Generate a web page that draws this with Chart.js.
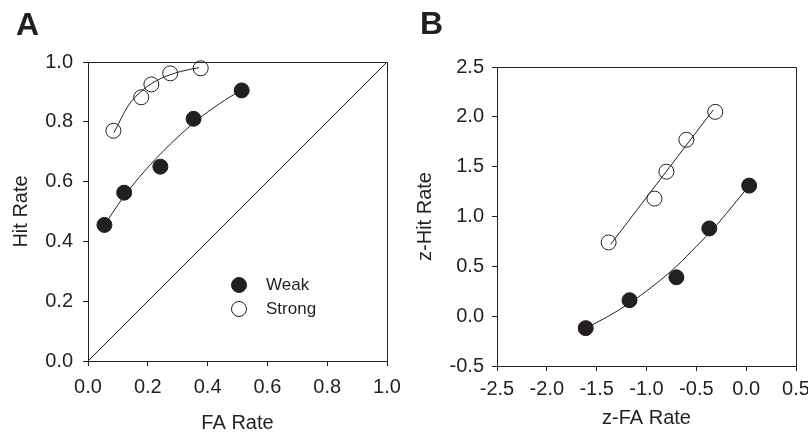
<!DOCTYPE html>
<html>
<head>
<meta charset="utf-8">
<script src="https://cdn.jsdelivr.net/npm/chart.js@4.4.1/dist/chart.umd.min.js"></script>
<style>
  html, body { margin: 0; padding: 0; background: #fff; }
  #wrap { position: relative; width: 808px; height: 439px; overflow: hidden; }
  canvas { position: absolute; top: 0; }
  #chartA { left: 0; }
  #chartB { left: 400px; }
  .panel { position: absolute; font: bold 32px "Liberation Sans", Arial, sans-serif; line-height: 32px; color: #231f20; }
</style>
</head>
<body>
<div id="wrap">
  <canvas id="chartA" width="400" height="439"></canvas>
  <canvas id="chartB" width="408" height="439"></canvas>
  <div class="panel" style="left:16px;top:8px">A</div>
  <div class="panel" style="left:420px;top:7px">B</div>
</div>
<script>
// values
// panel A: hit rate vs false-alarm rate
const weakFA    = [0.055, 0.121, 0.242, 0.353, 0.514];
const weakHit   = [0.455, 0.563, 0.650, 0.810, 0.905];
const strongFA  = [0.085, 0.178, 0.212, 0.275, 0.377];
const strongHit = [0.770, 0.882, 0.925, 0.962, 0.979];
// fitted curves
const weakFitFA    = [0.054, 0.081, 0.121, 0.171, 0.242, 0.309, 0.382, 0.460, 0.512];
const weakFitHit   = [0.452, 0.494, 0.551, 0.614, 0.692, 0.757, 0.819, 0.874, 0.905];
const strongFitFA  = [0.087, 0.136, 0.184, 0.242, 0.309, 0.371];
const strongFitHit = [0.764, 0.856, 0.907, 0.944, 0.968, 0.981];
const chanceX = [0, 1];
const chanceY = [0, 1];

// panel B: z-transformed rates
const weakZFA    = [-1.61, -1.17, -0.70, -0.37, 0.03];
const weakZHit   = [-0.12, 0.16, 0.39, 0.88, 1.31];
const strongZFA  = [-1.38, -0.92, -0.80, -0.60, -0.31];
const strongZHit = [0.74, 1.18, 1.45, 1.77, 2.05];
const weakZFitFA    = [-1.61, -1.40, -1.17, -0.95, -0.70, -0.50, -0.30, -0.10, 0.03];
const weakZFitHit   = [-0.12, -0.01, 0.13, 0.29, 0.50, 0.70, 0.91, 1.15, 1.31];
const strongZFitFA  = [-1.36, -0.33];
const strongZFitHit = [0.72, 2.07];

const ticksA  = [0, 0.2, 0.4, 0.6, 0.8, 1.0];
const xTicksB = [-2.5, -2.0, -1.5, -1.0, -0.5, 0.0, 0.5];
const yTicksB = [-0.5, 0.0, 0.5, 1.0, 1.5, 2.0, 2.5];
const seriesNames = ["Weak", "Strong"];

const ink = "#231f20";
const family = "'Liberation Sans', Arial, sans-serif";
const pts = (xs, ys) => xs.map((x, i) => ({ x, y: ys[i] }));

function axis(o) {
  return {
    type: "linear",
    position: o.position,
    min: o.min,
    max: o.max,
    border: { display: true, color: ink, width: 1 },
    grid: { drawOnChartArea: false, drawTicks: true, tickLength: 5, color: ink },
    ticks: {
      color: ink, font: { family, size: 20 }, padding: o.pad,
      autoSkip: false, maxRotation: 0,
      callback: (v) => v.toFixed(1)
    },
    title: { display: true, text: o.title, color: ink, font: { family, size: 20 }, padding: o.titlePad },
    afterBuildTicks: (s) => { s.ticks = o.ticks.map((v) => ({ value: v })); },
    afterFit: (s) => {
      if (o.position === "left") s.width = o.size; else s.height = o.size;
      s.paddingLeft = s.paddingRight = s.paddingTop = s.paddingBottom = 0;
    }
  };
}

function fitLine(data) {
  return {
    type: "scatter", data, showLine: true, borderColor: ink, borderWidth: 1,
    pointRadius: 0, cubicInterpolationMode: "monotone", clip: false
  };
}
function markers(label, data, filled) {
  return {
    type: "scatter", label, data, showLine: false, pointRadius: 7.5,
    backgroundColor: filled ? ink : "rgba(0,0,0,0)", borderColor: ink, borderWidth: 1, clip: false
  };
}

// top + right sides of the box
const frame = {
  id: "frame",
  beforeDatasetsDraw(chart) {
    const { ctx, chartArea: a } = chart;
    const al = (v) => Math.round(v - 0.5) + 0.5;
    ctx.save();
    ctx.strokeStyle = ink;
    ctx.lineWidth = 1;
    ctx.beginPath();
    ctx.moveTo(al(a.left), al(a.top));
    ctx.lineTo(al(a.right), al(a.top));
    ctx.lineTo(al(a.right), al(a.bottom));
    ctx.stroke();
    ctx.restore();
  }
};

// legend drawn inside the plot box
const insideLegend = {
  id: "insideLegend",
  afterDatasetsDraw(chart, args, opts) {
    if (!opts.items) return;
    const { ctx, chartArea } = chart;
    ctx.save();
    opts.items.forEach((idx, i) => {
      const ds = chart.data.datasets[idx];
      const cx = chartArea.left + opts.x;
      const cy = chartArea.top + opts.y + i * opts.rowGap;
      ctx.beginPath();
      ctx.arc(cx, cy, ds.pointRadius, 0, Math.PI * 2);
      ctx.fillStyle = ds.backgroundColor;
      ctx.fill();
      ctx.lineWidth = ds.borderWidth;
      ctx.strokeStyle = ds.borderColor;
      ctx.stroke();
      ctx.fillStyle = ink;
      ctx.font = "17px " + family;
      ctx.textBaseline = "middle";
      ctx.textAlign = "left";
      ctx.fillText(ds.label, cx + opts.textGap, cy);
    });
    ctx.restore();
  }
};

new Chart(document.getElementById("chartA"), {
  type: "scatter",
  data: {
    datasets: [
      markers(seriesNames[0], pts(weakFA, weakHit), true),
      markers(seriesNames[1], pts(strongFA, strongHit), false),
      fitLine(pts(weakFitFA, weakFitHit)),
      fitLine(pts(strongFitFA, strongFitHit)),
      Object.assign(fitLine(pts(chanceX, chanceY)), { cubicInterpolationMode: "default" })
    ]
  },
  options: {
    responsive: false,
    animation: false,
    events: [],
    layout: { padding: { left: 0, top: 62, right: 13, bottom: 0 } },
    scales: {
      x: axis({ position: "bottom", min: 0, max: 1, ticks: ticksA, pad: 9, title: "FA Rate", titlePad: { top: 0, bottom: 4 }, size: 78 }),
      y: axis({ position: "left", min: 0, max: 1, ticks: ticksA, pad: 10, title: "Hit Rate", titlePad: { top: 9, bottom: 0 }, size: 88 })
    },
    plugins: {
      legend: { display: false },
      tooltip: { enabled: false },
      insideLegend: { items: [0, 1], x: 151, y: 223, rowGap: 24, textGap: 27 }
    }
  },
  plugins: [frame, insideLegend]
});

new Chart(document.getElementById("chartB"), {
  type: "scatter",
  data: {
    datasets: [
      markers(seriesNames[0], pts(weakZFA, weakZHit), true),
      markers(seriesNames[1], pts(strongZFA, strongZHit), false),
      fitLine(pts(weakZFitFA, weakZFitHit)),
      fitLine(pts(strongZFitFA, strongZFitHit))
    ]
  },
  options: {
    responsive: false,
    animation: false,
    events: [],
    layout: { padding: { left: 0, top: 67, right: 12, bottom: 0 } },
    scales: {
      x: axis({ position: "bottom", min: -2.5, max: 0.5, ticks: xTicksB, pad: 6, title: "z-FA Rate", titlePad: { top: 0, bottom: 9 }, size: 73 }),
      y: axis({ position: "left", min: -0.5, max: 2.5, ticks: yTicksB, pad: 8, title: "z-Hit Rate", titlePad: { top: 13, bottom: 0 }, size: 97 })
    },
    plugins: {
      legend: { display: false },
      tooltip: { enabled: false }
    }
  },
  plugins: [frame]
});
</script>
</body>
</html>
